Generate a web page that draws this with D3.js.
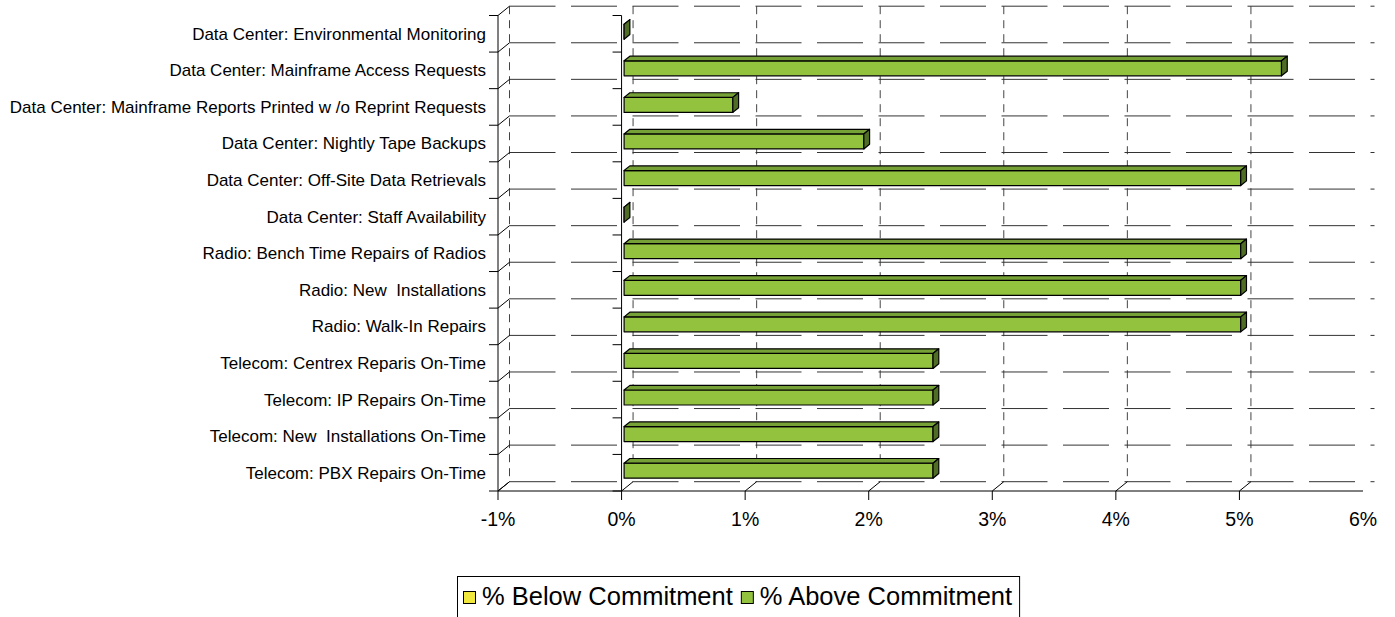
<!DOCTYPE html>
<html>
<head>
<meta charset="utf-8">
<script src="https://cdn.jsdelivr.net/npm/d3@7"></script>
<style>
  body { margin: 0; background: #fff; }
  text { font-family: "Liberation Sans", Arial, sans-serif; fill: #000; }
</style>
</head>
<body>
<div id="chart"></div>
<script>
const categories = [
  'Data Center: Environmental Monitoring',
  'Data Center: Mainframe Access Requests',
  'Data Center: Mainframe Reports Printed w /o Reprint Requests',
  'Data Center: Nightly Tape Backups',
  'Data Center: Off-Site Data Retrievals',
  'Data Center: Staff Availability',
  'Radio: Bench Time Repairs of Radios',
  'Radio: New  Installations',
  'Radio: Walk-In Repairs',
  'Telecom: Centrex Reparis On-Time',
  'Telecom: IP Repairs On-Time',
  'Telecom: New  Installations On-Time',
  'Telecom: PBX Repairs On-Time'
];
// values in percent
const belowCommitment = [null, null, null, null, null, null, null, null, null, null, null, null, null];
const aboveCommitment = [0, 5.32, 0.88, 1.94, 4.99, 0, 4.99, 4.99, 4.99, 2.5, 2.5, 2.5, 2.5];
const valueTicks = [-1, 0, 1, 2, 3, 4, 5, 6];
const seriesNames = ['% Below Commitment', '% Above Commitment'];

const W = 1395, H = 617;
const dx = 11.5, dy = -9.3;        // depth offset of the back wall
const d0 = 0.22, d1 = 0.72;        // bar depth range
const front = { left: 498, right: 1363, top: 15.5, bottom: 491 };

const svg = d3.select('#chart').append('svg')
  .attr('width', W).attr('height', H);

const x = d3.scaleLinear().domain([-1, 6]).range([front.left, front.right]);
const y = d3.scaleBand().domain(categories).range([front.top, front.bottom]);
const bounds = categories.map(c => y(c)).concat([front.bottom]);

const grid = svg.append('g');

// back wall vertical gridlines
grid.selectAll('.vgrid').data(valueTicks.slice(0, -1)).enter().append('line')
  .attr('x1', d => x(d) + dx).attr('x2', d => x(d) + dx)
  .attr('y1', front.top + dy).attr('y2', front.bottom + dy)
  .attr('stroke', '#444').attr('stroke-dasharray', '8,6');

// back wall horizontal gridlines
grid.selectAll('.hgrid').data(bounds).enter().append('line')
  .attr('x1', front.left + dx).attr('x2', front.right + dx)
  .attr('y1', d => d + dy).attr('y2', d => d + dy)
  .attr('stroke', '#333').attr('stroke-dasharray', '46,15.5');

// side wall diagonals
grid.selectAll('.side').data(bounds).enter().append('line')
  .attr('x1', front.left).attr('x2', front.left + dx)
  .attr('y1', d => d).attr('y2', d => d + dy)
  .attr('stroke', '#000');

// floor diagonals + ticks
grid.selectAll('.floor').data(valueTicks.slice(0, -1)).enter().append('line')
  .attr('x1', d => x(d)).attr('x2', d => x(d) + dx)
  .attr('y1', front.bottom).attr('y2', front.bottom + dy)
  .attr('stroke', '#000');
grid.selectAll('.xtick').data(valueTicks.slice(0, -1)).enter().append('line')
  .attr('x1', d => x(d)).attr('x2', d => x(d))
  .attr('y1', front.bottom).attr('y2', front.bottom + 9)
  .attr('stroke', '#000');

// front edges
grid.append('line').attr('x1', front.left).attr('x2', front.left)
  .attr('y1', front.top).attr('y2', front.bottom).attr('stroke', '#000');
grid.append('line').attr('x1', x(0)).attr('x2', x(0))
  .attr('y1', front.top).attr('y2', front.bottom).attr('stroke', '#000');
grid.append('line').attr('x1', front.left).attr('x2', front.right)
  .attr('y1', front.bottom).attr('y2', front.bottom).attr('stroke', '#000');

// category ticks
[front.left, x(0)].forEach(px => {
  grid.selectAll(null).data(bounds).enter().append('line')
    .attr('x1', px - 9).attr('x2', px)
    .attr('y1', d => d).attr('y2', d => d)
    .attr('stroke', '#000');
});

// labels
svg.append('g').selectAll('text').data(categories).enter().append('text')
  .attr('x', 486).attr('y', d => y(d) + y.bandwidth() / 2)
  .attr('dy', '0.35em').attr('text-anchor', 'end')
  .style('font-size', '17px').style('white-space', 'pre')
  .text(d => d);

svg.append('g').selectAll('text').data(valueTicks).enter().append('text')
  .attr('x', d => x(d)).attr('y', 526)
  .attr('text-anchor', 'middle').style('font-size', '19.5px')
  .text(d => d + '%');

// 3d bars
const colors = {
  above: { front: '#93C23F', top: '#76A136', side: '#4F6D25' },
  below: { front: '#F0E83C', top: '#C8C030', side: '#8F8A20' }
};

function drawBars(values, col) {
  const g = svg.append('g');
  const th = y.bandwidth() * 0.41;
  values.forEach((v, i) => {
    if (v == null) return;
    const cy = y(categories[i]) + y.bandwidth() / 2;
    const yT = cy - th / 2, yB = cy + th / 2;
    const xa = x(0), xb = x(v);
    const p = (px, py, d) => [px + d * dx, py + d * dy];
    const poly = pts => g.append('polygon')
      .attr('points', pts.map(q => q.join(',')).join(' '))
      .attr('stroke', '#000').attr('stroke-width', 1.2).attr('stroke-linejoin', 'round');
    poly([p(xa, yT, d0), p(xb, yT, d0), p(xb, yB, d0), p(xa, yB, d0)]).attr('fill', col.front);
    poly([p(xa, yT, d0), p(xb, yT, d0), p(xb, yT, d1), p(xa, yT, d1)]).attr('fill', col.top);
    poly([p(xb, yT, d0), p(xb, yT, d1), p(xb, yB, d1), p(xb, yB, d0)]).attr('fill', col.side);
  });
}
drawBars(belowCommitment, colors.below);
drawBars(aboveCommitment, colors.above);

// legend
const lg = svg.append('g');
const box = lg.append('rect').attr('x', 457.5).attr('y', 576.5)
  .attr('height', 44).attr('fill', '#fff').attr('stroke', '#000');
let lx = 463;
[colors.below.front, colors.above.front].forEach((c, i) => {
  lg.append('rect').attr('x', lx + 0.5).attr('y', 591.5).attr('width', 12).attr('height', 12)
    .attr('fill', c).attr('stroke', '#000');
  const t = lg.append('text').attr('x', lx + 19).attr('y', 605)
    .style('font-size', '25.5px').text(seriesNames[i]);
  lx = lx + 19 + t.node().getComputedTextLength() + 8;
});
box.attr('width', lx - 457 - 1);
</script>
</body>
</html>
